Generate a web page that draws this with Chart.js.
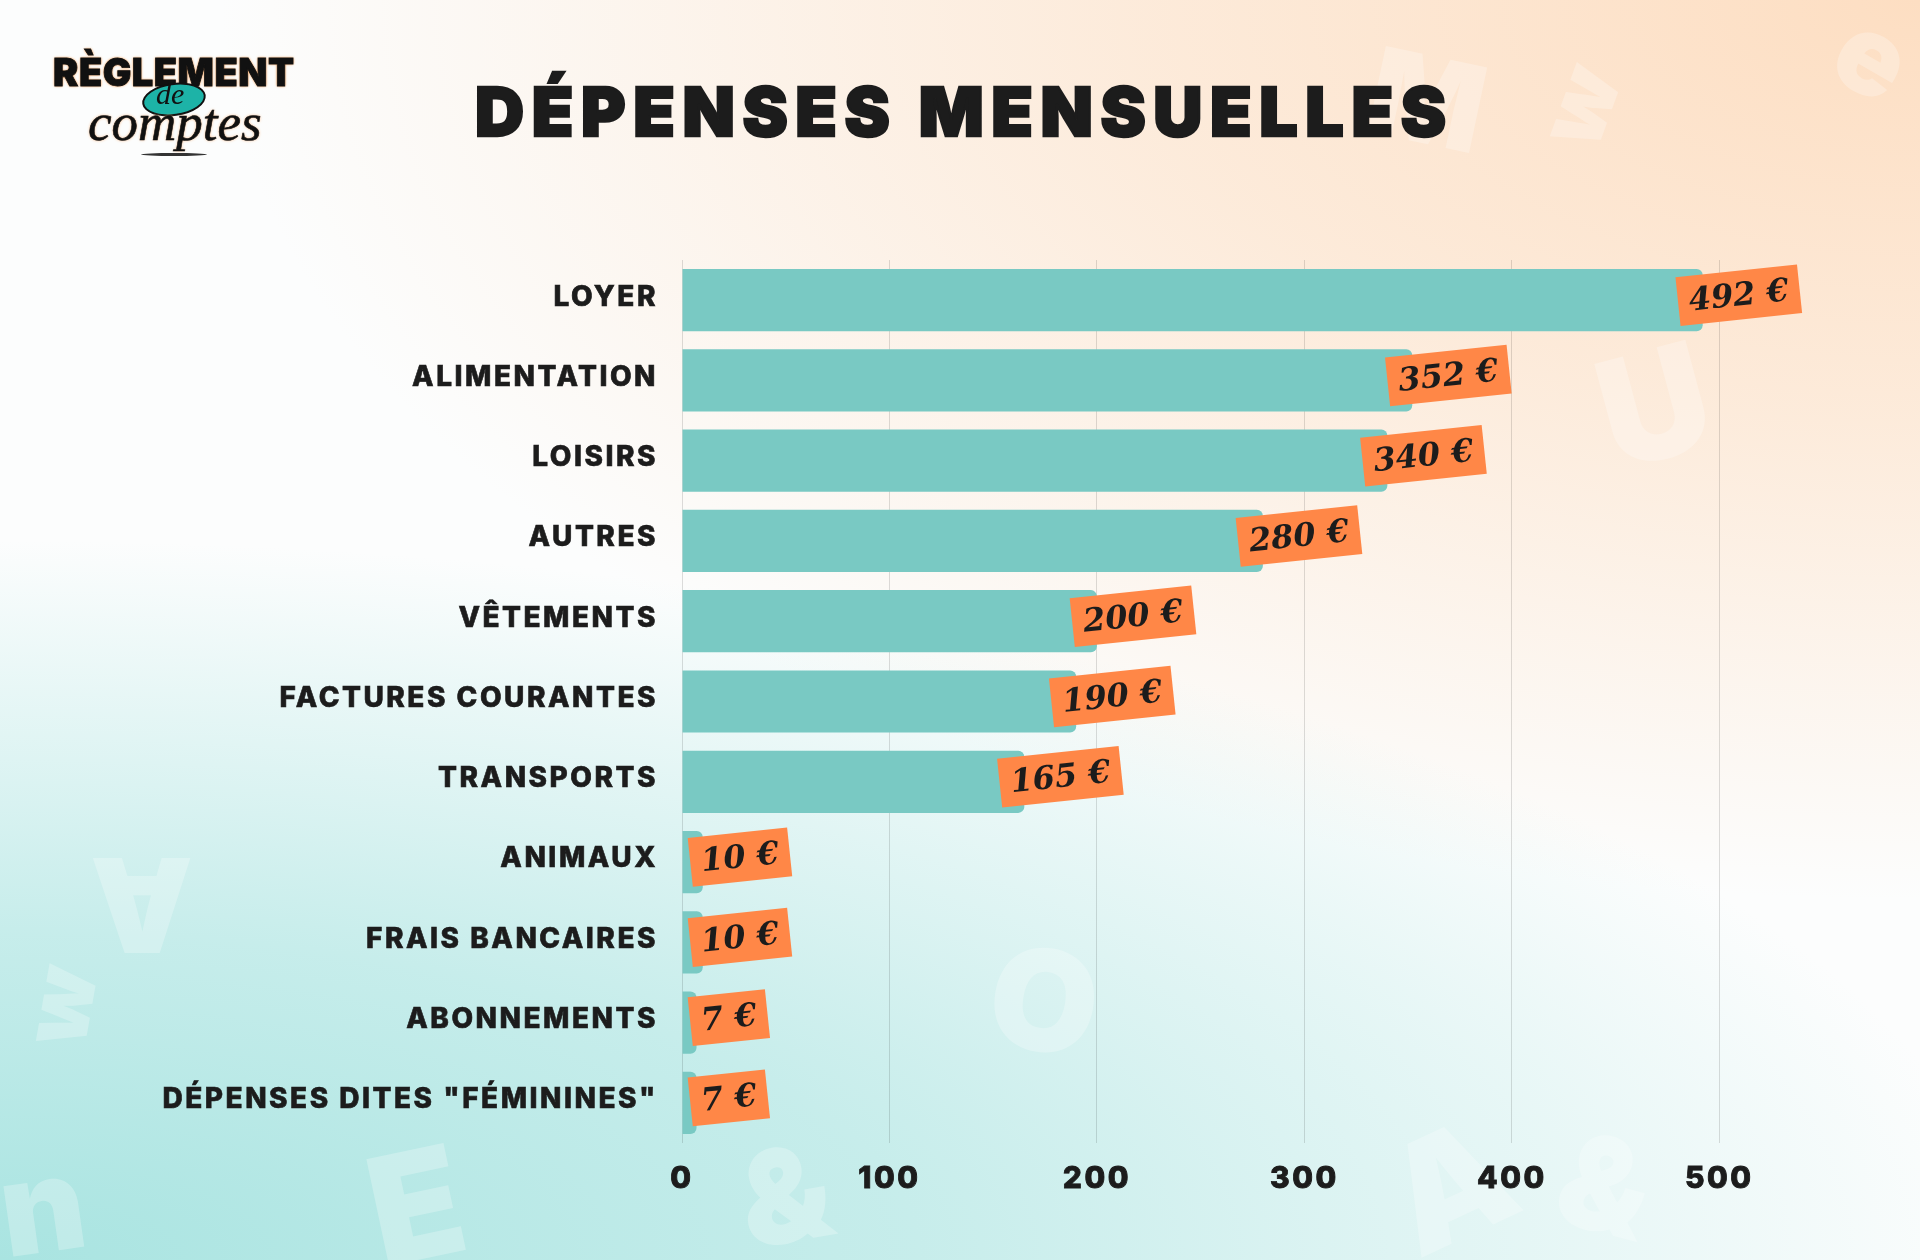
<!DOCTYPE html>
<html><head><meta charset="utf-8">
<script src="https://cdn.jsdelivr.net/npm/chart.js@4.4.1/dist/chart.umd.min.js"></script>
<style>
html,body{margin:0;padding:0;}
body{width:1920px;height:1260px;overflow:hidden;position:relative;
background:
radial-gradient(2000px 720px at 0% 100%, #a9e4e1 0%, rgba(169,228,225,0.65) 45%, rgba(169,228,225,0) 100%),
radial-gradient(1700px 900px at 100% 0%, #fddec2 0%, rgba(253,222,194,0.6) 45%, rgba(253,222,194,0) 100%),
#fcfdfd;}
.deco{position:absolute;font-family:Inter,Lato,sans-serif;font-weight:900;color:rgba(255,255,255,0.26);line-height:1;white-space:nowrap;}
#chartwrap{position:absolute;left:0;top:0;width:1920px;height:1260px;}
#title{position:absolute;left:475px;top:77px;font:900 68px Inter,Lato,sans-serif;line-height:68px;color:#1c1c1c;white-space:nowrap;-webkit-text-stroke:2.4px #1c1c1c;}
#logo1{position:absolute;left:53px;top:53px;font:900 38px Inter,Lato,sans-serif;line-height:38px;color:#111;white-space:nowrap;text-shadow:0 0 3px #f7a763,0 0 2px #f7a763;-webkit-text-stroke:0.8px #111;}
#ell{position:absolute;left:142px;top:83px;width:60px;height:29px;border-radius:50%;background:#1db3a7;border:2px solid #111;transform:rotate(-8deg);}
#de{position:absolute;left:156px;top:79px;font:italic 30px "Liberation Serif",serif;line-height:30px;color:#111;}
#comptes{position:absolute;left:88px;top:96px;font:italic 53px "Liberation Serif",serif;line-height:53px;color:#111;white-space:nowrap;text-shadow:0 0 3px #f7b27a;-webkit-text-stroke:0.6px #111;}
#swoosh{position:absolute;left:141px;top:153px;width:66px;height:3px;border-radius:50%;background:#333;}
</style></head>
<body>
<div class="deco" style="left:1370px;top:40px;font-size:120px;transform:rotate(12deg)">M</div>
<div class="deco" style="left:1540px;top:60px;font-size:90px;transform:rotate(-70deg)">w</div>
<div class="deco" style="left:1840px;top:0px;font-size:110px;transform:rotate(30deg)">e</div>
<div class="deco" style="left:1600px;top:330px;font-size:150px;transform:rotate(-15deg)">U</div>
<div class="deco" style="left:90px;top:840px;font-size:130px;transform:rotate(180deg)">A</div>
<div class="deco" style="left:20px;top:960px;font-size:90px;transform:rotate(-80deg)">w</div>
<div class="deco" style="left:370px;top:1130px;font-size:150px;transform:rotate(-12deg)">E</div>
<div class="deco" style="left:990px;top:930px;font-size:140px;transform:rotate(10deg)">O</div>
<div class="deco" style="left:1390px;top:1110px;font-size:150px;transform:rotate(-25deg)">A</div>
<div class="deco" style="left:1560px;top:1120px;font-size:130px;transform:rotate(15deg)">&amp;</div>
<div class="deco" style="left:740px;top:1130px;font-size:130px;transform:rotate(-10deg)">&amp;</div>
<div class="deco" style="left:0px;top:1140px;font-size:130px;transform:rotate(-8deg)">n</div>
<div id="chartwrap"><canvas id="c" width="1920" height="1260"></canvas></div>
<div id="title">DÉPENSES MENSUELLES</div>
<div id="logo1">RÈGLEMENT</div>
<div id="ell"></div>
<div id="de">de</div>
<div id="comptes">comptes</div>
<div id="swoosh"></div>
<script>
const categories = ['LOYER','ALIMENTATION','LOISIRS','AUTRES','VÊTEMENTS','FACTURES COURANTES','TRANSPORTS','ANIMAUX','FRAIS BANCAIRES','ABONNEMENTS','DÉPENSES DITES "FÉMININES"'];
const amounts = [492,352,340,280,200,190,165,10,10,7,7];
const xTicks = [0,100,200,300,400,500];
const currency = '€';

function fitWidth(id, target){
  const el = document.getElementById(id);
  const n = el.textContent.length;
  const w = el.getBoundingClientRect().width;
  el.style.letterSpacing = ((target - w) / (n - 1)) + 'px';
}
fitWidth('title', 971);
fitWidth('logo1', 241);

const LABEL_FONT = '800 28px Inter';
const mctx = document.createElement('canvas').getContext('2d');
mctx.font = LABEL_FONT;
const longest = categories[categories.length - 1];
const natural = mctx.measureText(longest).width;
const labelSpacing = Math.max(0, (493 - natural) / (longest.length - 1));

const spacingPlugin = {
  id: 'spacing',
  beforeUpdate(chart){ chart.ctx.letterSpacing = labelSpacing + 'px'; },
  beforeDraw(chart){ chart.ctx.letterSpacing = labelSpacing + 'px'; }
};

const tagPlugin = {
  id: 'tags',
  afterDatasetsDraw(chart){
    const ctx = chart.ctx;
    const meta = chart.getDatasetMeta(0);
    meta.data.forEach((bar, i) => {
      const text = amounts[i] + ' ' + currency;
      ctx.save();
      ctx.letterSpacing = '0px';
      ctx.font = 'italic bold 32px "DejaVu Serif"';
      const tw = ctx.measureText(text).width;
      const w = tw + 22, h = 49;
      const left = Math.max(bar.x - 25, chart.chartArea.left + 8);
      ctx.translate(left + w / 2, bar.y - 5);
      ctx.rotate(-6 * Math.PI / 180);
      ctx.fillStyle = '#ff8747';
      ctx.fillRect(-w / 2, -h / 2, w, h);
      ctx.fillStyle = '#1c1c1c';
      ctx.textAlign = 'center';
      ctx.textBaseline = 'middle';
      ctx.fillText(text, 0, 2);
      ctx.restore();
    });
  }
};

new Chart(document.getElementById('c'), {
  type: 'bar',
  data: {
    labels: categories,
    datasets: [{
      data: amounts,
      backgroundColor: '#79c9c3',
      borderRadius: 6,
      borderSkipped: 'start',
      barPercentage: 0.775,
      categoryPercentage: 1
    }]
  },
  options: {
    indexAxis: 'y',
    responsive: false,
    animation: false,
    devicePixelRatio: 1,
    layout: { padding: { left: 0, right: 97, top: 260, bottom: 47 } },
    plugins: { legend: { display: false }, tooltip: { enabled: false }, title: { display: false } },
    scales: {
      x: {
        type: 'linear', min: 0, max: 550,
        afterBuildTicks: (s) => { s.ticks = xTicks.map(v => ({ value: v })); },
        afterFit: (s) => { s.height = 70; },
        grid: { color: 'rgba(0,0,0,0.13)', lineWidth: 1, drawTicks: false },
        border: { display: false },
        ticks: { color: '#1c1c1c', padding: 18, textStrokeColor: '#1c1c1c', textStrokeWidth: 0.8, font: { family: 'Inter', weight: 800, size: 30 } }
      },
      y: {
        afterFit: (s) => { s.width = 682; },
        grid: { display: false, drawTicks: false },
        border: { display: false },
        ticks: { color: '#1c1c1c', padding: 24, labelOffset: -3, textStrokeColor: '#1c1c1c', textStrokeWidth: 0.6, font: { family: 'Inter', weight: 800, size: 28 } }
      }
    }
  },
  plugins: [spacingPlugin, tagPlugin]
});
</script>
</body></html>
